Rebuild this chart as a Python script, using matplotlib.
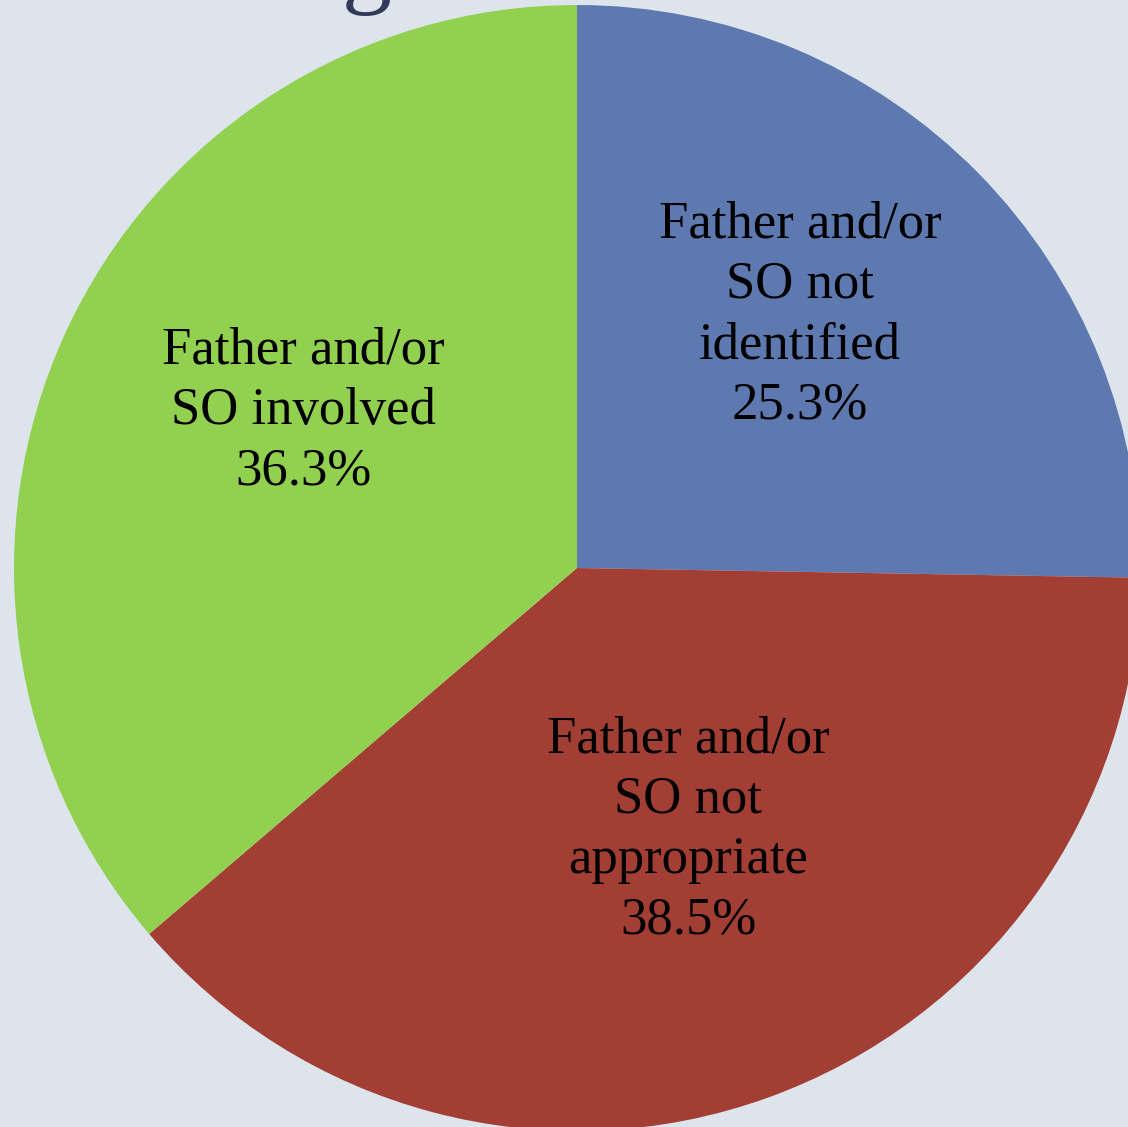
import matplotlib.pyplot as plt

categories = ["Father and/or\nSO not\nidentified",
              "Father and/or\nSO not\nappropriate",
              "Father and/or\nSO involved"]
shares = [25.3, 38.5, 36.3]
colors = ["#5e79b0", "#a33e35", "#92d050"]
bg = "#dde4ec"

W, H = 1128, 1127
fig = plt.figure(figsize=(W / 100, H / 100), dpi=100, facecolor=bg)
ax = fig.add_axes([0, 0, 1, 1])
ax.set_facecolor(bg)

cx, cy, r = 577, H - 568, 563
wedges, _ = ax.pie(shares, colors=colors, startangle=90, counterclock=False,
                   center=(cx, cy), radius=r, frame=True,
                   wedgeprops=dict(linewidth=0))
ax.set_xlim(0, W)
ax.set_ylim(0, H)
ax.set_aspect("equal")
ax.axis("off")

# label placement relative to pie centre
label_offsets = [(223, 253), (111, -262), (-274, 157)]
for lab, val, (dx, dy) in zip(categories, shares, label_offsets):
    ax.text(cx + dx, cy + dy, f"{lab}\n{val:.1f}%", ha="center", va="center",
            fontsize=38, family="Liberation Serif", color="black", linespacing=1.33)

# bottom of the title, cropped by the slide edge
fig.text(0.325, 1.004, "g", ha="center", va="baseline", fontsize=72,
         family="Liberation Serif", color="#323a5a")

fig.savefig("out.png", dpi=100, facecolor=bg)
